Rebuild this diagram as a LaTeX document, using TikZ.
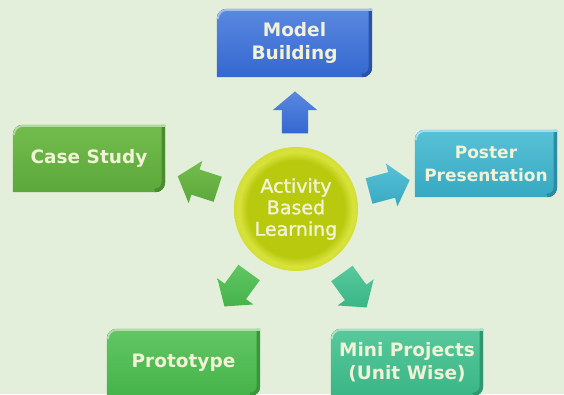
\documentclass[tikz,border=0pt]{standalone}
\usepackage{fontspec}
\setmainfont{DejaVu Sans}
\newfontfamily\ablfont[FakeBold=1.5]{DejaVu Sans}
\usetikzlibrary{shapes.arrows,backgrounds}
\definecolor{bg}{HTML}{E3EFDA}
\definecolor{txt}{HTML}{F2F2D6}
\definecolor{mbL}{HTML}{5A88E0}\definecolor{mbB}{HTML}{3468D0}\definecolor{mbD}{HTML}{2A52A8}
\definecolor{csL}{HTML}{74BC4E}\definecolor{csB}{HTML}{5CA83A}\definecolor{csD}{HTML}{4A8C2E}
\definecolor{ppL}{HTML}{58C1D6}\definecolor{ppB}{HTML}{37A9C2}\definecolor{ppD}{HTML}{2A8DA3}
\definecolor{prL}{HTML}{62C664}\definecolor{prB}{HTML}{45B349}\definecolor{prD}{HTML}{38963B}
\definecolor{mpL}{HTML}{58C99D}\definecolor{mpB}{HTML}{3AB586}\definecolor{mpD}{HTML}{2E9870}
\definecolor{ciIn}{HTML}{B8C90E}\definecolor{ciRim}{HTML}{D8E23C}
\pgfdeclareradialshading{ballrim}{\pgfpoint{0bp}{0bp}}{color(0bp)=(ciIn); color(19.5bp)=(ciIn); color(23bp)=(ciRim); color(25bp)=(ciRim!85!ciIn); color(50bp)=(ciRim)}
\newcommand\bevbox[4]{%
  \begin{scope}
    \clip (#1.south west) -- ([yshift=-10pt]#1.north west) arc[start angle=180, end angle=90, radius=10pt] -- (#1.north east) -- ([yshift=10pt]#1.south east) arc[start angle=0, end angle=-90, radius=10pt] -- cycle;
    \fill[top color=#2, bottom color=#3] (#1.south west) rectangle (#1.north east);
    \draw[#4, line width=7pt] ([yshift=2pt]#1.north east) -- ([yshift=10pt]#1.south east) arc[start angle=0, end angle=-90, radius=10pt];
    \draw[#2!55!white, line width=4pt] ([yshift=-10pt]#1.north west) arc[start angle=180, end angle=90, radius=10pt] -- (#1.north east);
  \end{scope}}
\tikzset{
  boxnode/.style={minimum width=#1, inner sep=0pt, align=center, text=txt,
    font=\bfseries\fontsize{18.5}{23}\selectfont},
  barrow/.style={single arrow, draw=none, inner xsep=0pt, inner ysep=13pt,
    minimum height=42pt, minimum width=44pt, single arrow head extend=9pt,
    single arrow head indent=0pt, single arrow tip angle=100},
}
\begin{document}
\begin{tikzpicture}[x=1pt,y=1pt]
\useasboundingbox (0,0) rectangle (564,394);
\begin{scope}[on background layer]
  \fill[bg] (0,0) rectangle (564,394);
\end{scope}
% boxes
\node[boxnode=155pt, minimum height=68pt] (mb) at (294.5,351) {Model\\Building};
\node[boxnode=152pt, minimum height=67pt] (cs) at (89,235.5) {Case Study};
\node[boxnode=142pt, minimum height=67pt, font=\bfseries\fontsize{17}{23}\selectfont] (pp) at (486,230.5) {Poster\\Presentation};
\node[boxnode=153pt, minimum height=67pt] (pr) at (183.5,31.5) {Prototype};
\node[boxnode=152pt, minimum height=67pt] (mp) at (407,31.5) {Mini Projects\\(Unit Wise)};
\begin{scope}[on background layer]
  \bevbox{mb}{mbL}{mbB}{mbD}
  \bevbox{cs}{csL}{csB}{csD}
  \bevbox{pp}{ppL}{ppB}{ppD}
  \bevbox{pr}{prL}{prB}{prD}
  \bevbox{mp}{mpL}{mpB}{mpD}
\end{scope}
% centre
\node[circle, minimum size=124pt, inner sep=0pt, shading=ballrim, align=center, text=txt,
  font=\ablfont\fontsize{19}{21.5}\selectfont] (abl) at (296,185) {Activity\\Based\\Learning};
% block arrows
\node[barrow, rotate=90, top color=mbL, bottom color=mbB] (a1) at (295,276) {};
\node[barrow, rotate=15, top color=ppL, bottom color=ppB] (a2) at (384,207) {};
\node[barrow, rotate=162, top color=csL, bottom color=csB] (a3) at (203,209.5) {};
\node[barrow, rotate=-54, top color=mpL, bottom color=mpB] (a4) at (351,108) {};
\node[barrow, rotate=-126, top color=prL, bottom color=prB] (a5) at (240,109) {};
\end{tikzpicture}
\end{document}
